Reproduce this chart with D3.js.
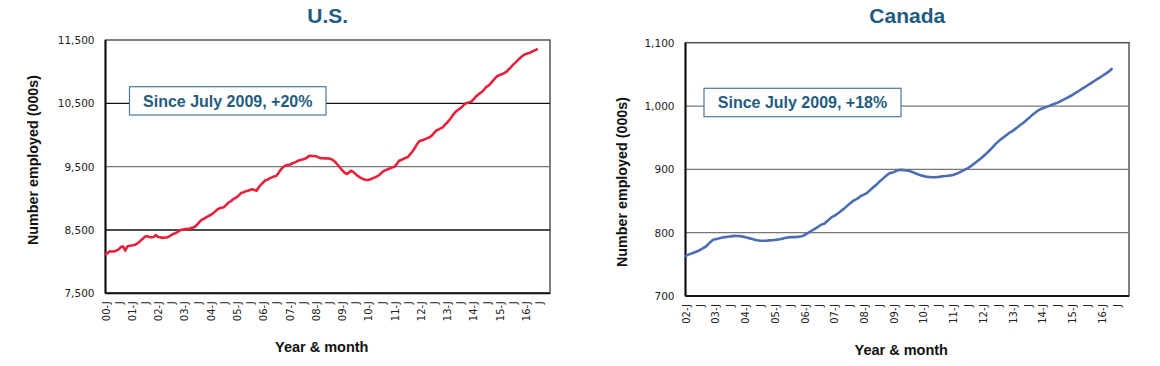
<!DOCTYPE html>
<html>
<head>
<meta charset="utf-8">
<script src="https://cdn.jsdelivr.net/npm/d3@7"></script>
<style>
  html, body { margin: 0; padding: 0; background: #fff; }
  svg { display: block; }
</style>
</head>
<body>
<svg id="chart" width="1160" height="366"></svg>
<script>
// ---------- DATA ----------
// U.S.: monthly, Jan 2000 (index 0) to Jun 2016; axis categories run to Dec 2016
const usTitle = "U.S.";
const usNote = "Since July 2009, +20%";
const usCategoryCount = 204;
const usValues = [
  8117, 8135, 8165, 8160, 8162, 8175, 8195, 8230, 8240, 8175, 8240, 8250,
  8255, 8262, 8275, 8300, 8330, 8360, 8395, 8400, 8390, 8385, 8390, 8420,
  8390, 8385, 8375, 8380, 8382, 8395, 8420, 8440, 8450, 8470, 8495, 8505,
  8512, 8520, 8515, 8530, 8540, 8555, 8590, 8630, 8660, 8680, 8700, 8720,
  8736, 8760, 8790, 8820, 8842, 8850, 8858, 8890, 8928, 8950, 8975, 9000,
  9020, 9050, 9085, 9095, 9110, 9120, 9130, 9142, 9130, 9120, 9175, 9215,
  9250, 9285, 9295, 9316, 9330, 9345, 9352, 9400, 9450, 9490, 9515, 9526,
  9530, 9545, 9560, 9575, 9594, 9605, 9612, 9625, 9640, 9673, 9670, 9668,
  9665, 9650, 9635, 9632, 9630, 9630, 9628, 9620, 9600, 9570, 9530, 9490,
  9450, 9410, 9384, 9400, 9436, 9420, 9390, 9360, 9335, 9315, 9300, 9289,
  9290, 9300, 9315, 9330, 9345, 9368, 9400, 9430, 9447, 9460, 9475, 9490,
  9500, 9540, 9590, 9605, 9620, 9640, 9650, 9690, 9730, 9780, 9840, 9890,
  9910, 9920, 9935, 9950, 9963, 9990, 10030, 10067, 10085, 10105, 10121, 10160,
  10195, 10236, 10280, 10330, 10370, 10395, 10420, 10450, 10489, 10505, 10515, 10525,
  10560, 10600, 10630, 10660, 10683, 10720, 10762, 10780, 10820, 10860, 10900, 10930,
  10947, 10960, 10975, 10995, 11030, 11065, 11105, 11135, 11170, 11205, 11235, 11263,
  11280, 11292, 11299, 11320, 11335, 11353
];
const usYTicks = [7500, 8500, 9500, 10500, 11500];
const usXTickLabels = [
  "00-J","J","01-J","J","02-J","J","03-J","J","04-J","J","05-J","J",
  "06-J","J","07-J","J","08-J","J","09-J","J","10-J","J","11-J","J",
  "12-J","J","13-J","J","14-J","J","15-J","J","16-J","J"
];

// Canada: monthly, Jan 2002 (index 0) to May 2016; axis categories run to Dec 2016
const caTitle = "Canada";
const caNote = "Since July 2009, +18%";
const caCategoryCount = 180;
const caValues = [
  763, 765, 766.5, 768, 769.5, 771, 773, 775.4, 777.5, 781, 785, 788.5,
  789.6, 790.5, 791.5, 792.5, 793, 793.5, 794, 794.5, 795, 794.8, 794.5, 793.8,
  793, 792, 791, 790, 789, 788, 787.5, 787.3, 787.3, 787.5, 787.8, 788,
  788.5, 789, 789.5, 790.5, 791.5, 792.2, 792.8, 793, 793, 793.3, 793.8, 794.5,
  796, 798.5, 801, 803.3, 805.5, 808, 810.5, 813, 814, 817.5, 821, 824.4,
  826.5, 829, 832, 835, 838, 841.5, 845, 848, 851, 853, 855.5, 858.5,
  860, 862, 865.5, 869, 872.5, 875.5, 879.5, 883, 886.5, 890, 893, 894.5,
  895.5, 897.5, 899, 899.2, 898.8, 898.3, 897.8, 896.5, 895, 893.5, 892, 890.5,
  889.5, 888.5, 888, 887.7, 887.5, 887.5, 888, 888.5, 889, 889.5, 890, 890.5,
  891.2, 892.5, 894, 896, 898, 900, 902, 904.5, 907.5, 910.5, 913.5, 916.5,
  920, 923.5, 927, 931, 935, 939.5, 943, 946.5, 949.5, 952.5, 955.5, 958.5,
  960.5, 963.5, 966.5, 969.5, 972.5, 975.6, 979, 982.5, 986, 989, 992, 994.5,
  996, 997.5, 999, 1000.5, 1002, 1003.5, 1005, 1007, 1009, 1011, 1013, 1015,
  1017, 1019.5, 1022, 1024.5, 1027, 1029.5, 1032, 1034.5, 1037, 1039.5, 1042, 1044.5,
  1047, 1049.5, 1052, 1055, 1058.5
];
const caYTicks = [700, 800, 900, 1000, 1100];
const caXTickLabels = [
  "02-J","J","03-J","J","04-J","J","05-J","J","06-J","J","07-J","J",
  "08-J","J","09-J","J","10-J","J","11-J","J","12-J","J","13-J","J",
  "14-J","J","15-J","J","16-J","J"
];

const yAxisTitle = "Number employed (000s)";
const xAxisTitle = "Year & month";

// ---------- DRAW ----------
const svg = d3.select("#chart");
const TITLE_COLOR = "#1f5c80";

function drawPanel(cfg) {
  const g = svg.append("g");
  const x = d3.scaleLinear().domain([0, cfg.categoryCount - 1]).range([cfg.left, cfg.right]);
  const y = d3.scaleLinear().domain([cfg.yTicks[0], cfg.yTicks[cfg.yTicks.length - 1]])
    .range([cfg.bottom, cfg.top]);

  // plot background + frame
  g.append("rect")
    .attr("x", cfg.left).attr("y", cfg.top)
    .attr("width", cfg.right - cfg.left).attr("height", cfg.bottom - cfg.top)
    .attr("fill", "#fff").attr("stroke", "#555").attr("stroke-width", 1.5);

  // gridlines (interior ticks)
  const inner = cfg.yTicks.slice(1, -1);
  g.selectAll("line.grid").data(inner).enter().append("line")
    .attr("class", "grid")
    .attr("x1", cfg.left).attr("x2", cfg.right)
    .attr("y1", d => y(d)).attr("y2", d => y(d))
    .attr("stroke", (d, i) => cfg.gridColors[i]).attr("stroke-width", 1.3);

  // Y axis (labels only, via d3 axis)
  const yAxis = d3.axisLeft(y).tickValues(cfg.yTicks).tickSize(0).tickPadding(0)
    .tickFormat(d3.format(","));
  const ya = g.append("g").attr("transform", `translate(${cfg.left - 11},0)`).call(yAxis);
  ya.select(".domain").remove();
  ya.selectAll("text")
    .attr("font-family", "'DejaVu Sans', sans-serif").attr("font-size", 10.5)
    .attr("fill", "#222");

  // X axis with tick labels every 6 months
  const xTickIdx = cfg.xTickLabels.map((_, i) => i * 6);
  const xAxis = d3.axisBottom(x).tickValues(xTickIdx).tickSize(0).tickPadding(0)
    .tickFormat((d, i) => cfg.xTickLabels[i]);
  const xa = g.append("g").attr("transform", `translate(0,${cfg.bottom})`).call(xAxis);
  xa.select(".domain").remove();
  xa.selectAll("text")
    .attr("font-family", "'DejaVu Sans', sans-serif").attr("font-size", 10)
    .attr("fill", "#222")
    .attr("text-anchor", "end")
    .attr("transform", "translate(0,8) rotate(-90)")
    .attr("x", 0).attr("y", 0).attr("dy", "0.36em");

  // left & bottom axis lines
  g.append("line").attr("x1", cfg.left).attr("x2", cfg.left)
    .attr("y1", cfg.top).attr("y2", cfg.bottom).attr("stroke", "#111").attr("stroke-width", 2);
  g.append("line").attr("x1", cfg.left).attr("x2", cfg.right)
    .attr("y1", cfg.bottom).attr("y2", cfg.bottom).attr("stroke", "#111").attr("stroke-width", 2);

  // data line
  const line = d3.line().x((d, i) => x(i)).y(d => y(d));
  g.append("path").datum(cfg.values)
    .attr("d", line).attr("fill", "none")
    .attr("stroke", cfg.color).attr("stroke-width", 2.6)
    .attr("stroke-linejoin", "round").attr("stroke-linecap", "round");

  // annotation box
  g.append("rect")
    .attr("x", cfg.box.x).attr("y", cfg.box.y)
    .attr("width", cfg.box.w).attr("height", cfg.box.h)
    .attr("fill", "#fff").attr("stroke", "#4a7896").attr("stroke-width", 1.2);
  g.append("text")
    .attr("x", cfg.box.x + cfg.box.w / 2).attr("y", cfg.box.y + cfg.box.h / 2)
    .attr("dy", "0.36em").attr("text-anchor", "middle")
    .attr("font-family", "'Liberation Sans', Arial, sans-serif")
    .attr("font-weight", "bold").attr("font-size", 16)
    .attr("fill", TITLE_COLOR).text(cfg.note);

  // title
  g.append("text")
    .attr("x", (cfg.left + cfg.right) / 2).attr("y", 23)
    .attr("text-anchor", "middle")
    .attr("font-family", "'Liberation Sans', Arial, sans-serif")
    .attr("font-weight", "bold").attr("font-size", 21)
    .attr("fill", TITLE_COLOR).text(cfg.title);

  // y-axis title
  g.append("text")
    .attr("transform", `translate(${cfg.yTitleX},${cfg.yTitleY}) rotate(-90)`)
    .attr("text-anchor", "middle").attr("dy", "0.36em")
    .attr("font-family", "'Liberation Sans', Arial, sans-serif")
    .attr("font-weight", "bold").attr("font-size", 14.3)
    .attr("fill", "#111").text(yAxisTitle);

  // x-axis title
  g.append("text")
    .attr("x", (cfg.left + cfg.right) / 2 - 6).attr("y", cfg.xTitleY)
    .attr("text-anchor", "middle")
    .attr("font-family", "'Liberation Sans', Arial, sans-serif")
    .attr("font-weight", "bold").attr("font-size", 14.5)
    .attr("fill", "#111").text(xAxisTitle);
}

drawPanel({
  title: usTitle, note: usNote, values: usValues, categoryCount: usCategoryCount,
  yTicks: usYTicks, xTickLabels: usXTickLabels,
  left: 105.5, right: 550, top: 40, bottom: 293.3,
  gridColors: ["#111", "#777", "#111"],
  color: "#e5213c",
  box: { x: 129.5, y: 86.7, w: 196.5, h: 28.3 },
  yTitleX: 32.5, yTitleY: 160, xTitleY: 352
});

drawPanel({
  title: caTitle, note: caNote, values: caValues, categoryCount: caCategoryCount,
  yTicks: caYTicks, xTickLabels: caXTickLabels,
  left: 685.5, right: 1129, top: 42.7, bottom: 296,
  gridColors: ["#777", "#777", "#777"],
  color: "#4a6db3",
  box: { x: 704, y: 88.3, w: 197, h: 28.4 },
  yTitleX: 622, yTitleY: 182, xTitleY: 355
});
</script>
</body>
</html>
